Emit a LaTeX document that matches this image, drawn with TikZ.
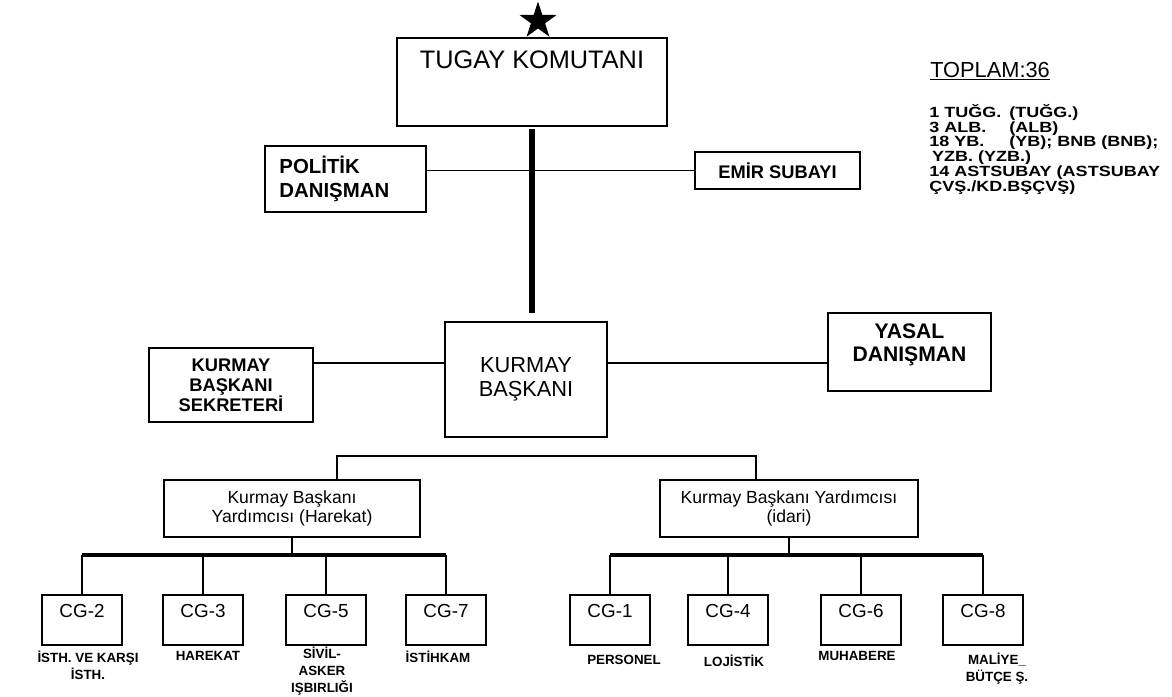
\documentclass[tikz,border=0pt]{standalone}
\usepackage{fontspec}
\setmainfont{Liberation Sans}
\newfontfamily\widefont[FakeStretch=1.22]{Liberation Sans}
\usetikzlibrary{shapes.geometric}

\begin{document}
\begin{tikzpicture}[x=0.025cm, y=-0.025cm,
    box/.style={draw, line width=1.3pt, align=center},
    staff/.style={box, font=\bfseries\fontsize{13}{14.2}\selectfont},
    deputy/.style={box, minimum height=1.425cm, font=\fontsize{12.5}{13.5}\selectfont},
    cgbox/.style={box, anchor=north, minimum width=2cm, inner ysep=6.4pt,
        text height=9.6pt, text depth=13.5pt, font=\fontsize{13.4}{15}\selectfont},
    cglabel/.style={anchor=north, align=center, inner sep=0pt,
        font=\bfseries\fontsize{9.5}{12}\selectfont},
    link/.style={line width=1.2pt},
    bus/.style={line width=3.4pt}]
  \useasboundingbox (0,0) rectangle (1172,697);

  \node[star, star points=5, star point ratio=2.6, fill, inner sep=0pt,
        minimum size=0.97cm] (star) at (538,21) {};
  \node[box, anchor=north, minimum width=6.75cm, inner ysep=9.2pt,
        text height=12.9pt, text depth=31.3pt,
        font=\fontsize{18}{20}\selectfont] (tugay) at (532,37) {TUGAY KOMUTANI};
  \node[box, minimum width=4.025cm, minimum height=1.65cm, text width=94pt,
        align=left, inner xsep=10pt,
        font=\bfseries\fontsize{14.5}{17}\selectfont] (politik) at (345.5,179) {POLİTİK\\DANIŞMAN};
  \node[staff, minimum width=4.125cm, minimum height=0.925cm] (emir) at (777.5,170.5) {EMİR SUBAYI};

  \node[staff, minimum width=4.1cm, minimum height=1.85cm] (sekreter) at (231,385) {KURMAY\\BAŞKANI\\SEKRETERİ};
  \node[box, minimum width=4.05cm, minimum height=2.875cm,
        font=\fontsize{15.5}{17}\selectfont] (kurmay) at (526,379.5) {KURMAY\\BAŞKANI};
  \node[box, minimum width=4.075cm, minimum height=1.95cm, text depth=13pt,
        font=\bfseries\fontsize{15}{16}\selectfont] (yasal) at (909.5,352) {YASAL\\DANIŞMAN};

  \node[deputy, minimum width=6.4cm] (kbyh) at (292,508.5) {Kurmay Başkanı\\Yardımcısı (Harekat)};
  \node[deputy, minimum width=6.45cm] (kbyi) at (789,508.5) {Kurmay Başkanı Yardımcısı\\(idari)};

  \node[cgbox] (cg2) at (82,594) {CG-2};
  \node[cgbox] (cg3) at (203,594) {CG-3};
  \node[cgbox] (cg5) at (326,594) {CG-5};
  \node[cgbox] (cg7) at (446,594) {CG-7};
  \node[cgbox] (cg1) at (610,594) {CG-1};
  \node[cgbox] (cg4) at (728,594) {CG-4};
  \node[cgbox] (cg6) at (861,594) {CG-6};
  \node[cgbox] (cg8) at (983,594) {CG-8};

  \node[cglabel] (lbl2) at (88,651) {İSTH. VE KARŞI\\İSTH.};
  \node[cglabel] (lbl3) at (208,651) {HAREKAT};
  \node[cglabel] (lbl5) at (322,647) {SİVİL-\\ASKER\\IŞBIRLIĞI};
  \node[cglabel] (lbl7) at (438,651) {İSTİHKAM};
  \node[cglabel] (lbl1) at (624,655) {PERSONEL};
  \node[cglabel] (lbl4) at (734,655) {LOJİSTİK};
  \node[cglabel] (lbl6) at (857,651) {MUHABERE};
  \node[cglabel] (lbl8) at (997,653) {MALİYE\_\\BÜTÇE Ş.};

  \node[anchor=base west, inner sep=0pt,
        font=\fontsize{15.5}{17}\selectfont] (toplam) at (930,77) {\underline{TOPLAM:36}};
  \node[anchor=north west, inner sep=0pt, align=left,
        font=\widefont\bfseries\fontsize{10.5}{10.5}\selectfont] (kadro) at (929,104)
       {\makebox[57pt][l]{1 TUĞG.}(TUĞG.)\\
        \makebox[57pt][l]{3 ALB.}(ALB)\\
        \makebox[57pt][l]{18 YB.}(YB); BNB (BNB);\\
        \hspace{2pt}YZB. (YZB.)\\
        14 ASTSUBAY (ASTSUBAY\\
        ÇVŞ./KD.BŞÇVŞ)};

  \coordinate (mid) at (0,363);
  \coordinate (fork) at (546,456);
  \coordinate (cgbus) at (0,555);

  \draw[line width=3.6pt, shorten <=1.5pt, shorten >=6pt] (tugay.south) -- (tugay.south |- kurmay.north);
  \draw[link] (politik.east |- emir.west) -- (emir.west);
  \draw[link] (sekreter.east |- mid) -- (kurmay.west |- mid);
  \draw[link] (kurmay.east |- mid) -- (yasal.west |- mid);
  \draw[link] ([xshift=1.125cm]kbyh.north) |- (fork) -| ([xshift=-0.825cm]kbyi.north);

  \draw[link] (kbyh.south) -- (kbyh.south |- cgbus);
  \draw[link] (kbyi.south) -- (kbyi.south |- cgbus);
  \draw[bus] (cg2.north |- cgbus) -- (cg7.north |- cgbus);
  \draw[bus] (cg1.north |- cgbus) -- (cg8.north |- cgbus);
  \draw[link] (cg2.north) -- (cg2.north |- cgbus) (cg3.north) -- (cg3.north |- cgbus)
              (cg5.north) -- (cg5.north |- cgbus) (cg7.north) -- (cg7.north |- cgbus)
              (cg1.north) -- (cg1.north |- cgbus) (cg4.north) -- (cg4.north |- cgbus)
              (cg6.north) -- (cg6.north |- cgbus) (cg8.north) -- (cg8.north |- cgbus);
\end{tikzpicture}
\end{document}
